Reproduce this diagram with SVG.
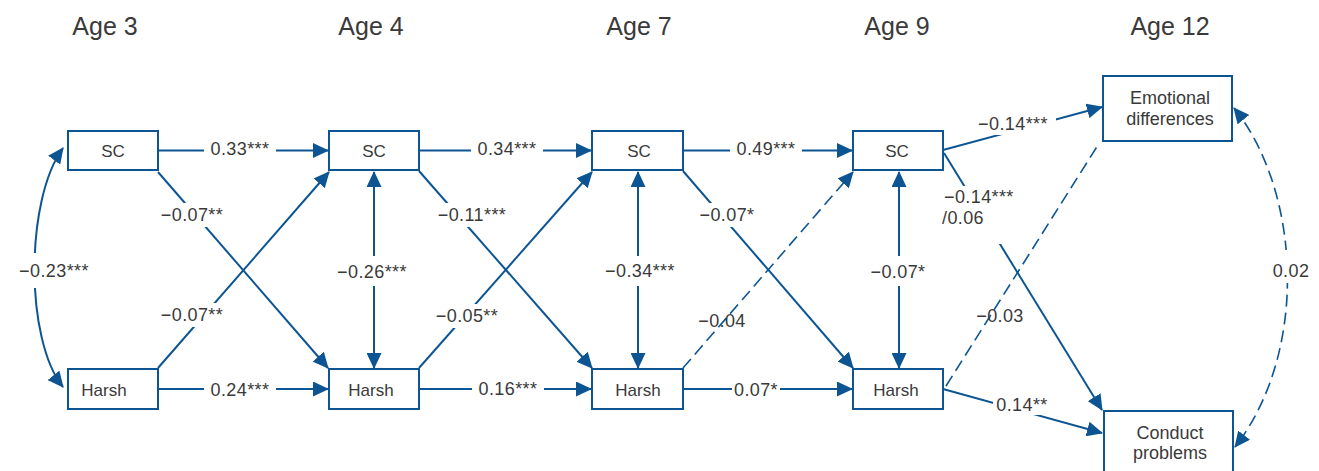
<svg xmlns="http://www.w3.org/2000/svg" width="1319" height="471" viewBox="0 0 1319 471">
<style>
.box{fill:#fff;stroke:#0d5592;stroke-width:2}
.ln{fill:none;stroke:#0d5592;stroke-width:2}
.dash{fill:none;stroke:#0d5592;stroke-width:1.6;stroke-dasharray:12 6}
.title{font-family:"Liberation Sans",Arial,sans-serif;font-size:25px;fill:#3a3a3a;text-anchor:middle}
.nl{font-family:"Liberation Sans",Arial,sans-serif;font-size:17px;fill:#3a3a3a;text-anchor:middle}
.nl2{font-family:"Liberation Sans",Arial,sans-serif;font-size:18px;fill:#3a3a3a;text-anchor:middle}
.el{font-family:"Liberation Sans",Arial,sans-serif;font-size:18px;fill:#3a3a3a;text-anchor:middle;letter-spacing:0.4px}
.els{font-family:"Liberation Sans",Arial,sans-serif;font-size:18px;fill:#3a3a3a;letter-spacing:0.4px}
.bg{fill:#fff}
</style>
<defs>
<marker id="ah" markerUnits="userSpaceOnUse" markerWidth="16" markerHeight="15" refX="15" refY="7.5" orient="auto-start-reverse" viewBox="0 0 16 15">
<path d="M0,0 L16,7.5 L0,15 z" fill="#0d5592"/>
</marker>
</defs>
<rect width="1319" height="471" fill="#fff"/>
<g id="titles">
<text class="title" x="105" y="35">Age 3</text>
<text class="title" x="371" y="35">Age 4</text>
<text class="title" x="639" y="35">Age 7</text>
<text class="title" x="897" y="35">Age 9</text>
<text class="title" x="1170" y="35">Age 12</text>
</g>
<g id="connectors">
<path class="ln" d="M158 150.5 H328" marker-end="url(#ah)"/>
<path class="ln" d="M419 150.5 H591" marker-end="url(#ah)"/>
<path class="ln" d="M683 150.5 H852" marker-end="url(#ah)"/>
<path class="ln" d="M158 389 H328" marker-end="url(#ah)"/>
<path class="ln" d="M419 389 H591" marker-end="url(#ah)"/>
<path class="ln" d="M683 389 H852" marker-end="url(#ah)"/>
<path class="ln" d="M158 172 L328 368" marker-end="url(#ah)"/>
<path class="ln" d="M158 368 L329 172" marker-end="url(#ah)"/>
<path class="ln" d="M419 171 L592 368" marker-end="url(#ah)"/>
<path class="ln" d="M419 368 L592 172" marker-end="url(#ah)"/>
<path class="ln" d="M683 171 L853 368" marker-end="url(#ah)"/>
<path class="dash" d="M683 368 L853 172" marker-end="url(#ah)"/>
<path class="ln" d="M374 172 V368" marker-start="url(#ah)" marker-end="url(#ah)"/>
<path class="ln" d="M638 172 V368" marker-start="url(#ah)" marker-end="url(#ah)"/>
<path class="ln" d="M899 172 V368" marker-start="url(#ah)" marker-end="url(#ah)"/>
<path class="ln" d="M63 148 C25 200 25 340 63 387" marker-start="url(#ah)" marker-end="url(#ah)"/>
<path class="dash" d="M1234 108 C1300 190 1310 350 1235 447" marker-start="url(#ah)" marker-end="url(#ah)"/>
<path class="ln" d="M943 150 L1102 107" marker-end="url(#ah)"/>
<path class="ln" d="M944 153 L1102 410" marker-end="url(#ah)"/>
<path class="dash" d="M946 386 L1098 145"/>
<path class="ln" d="M943 389 L1102 433" marker-end="url(#ah)"/>
</g>
<g id="edge-labels">
<rect class="bg" x="204" y="138" width="72" height="22"/><text class="el" x="240" y="155">0.33***</text>
<rect class="bg" x="204" y="379" width="72" height="20"/><text class="el" x="240" y="396">0.24***</text>
<rect class="bg" x="156" y="203" width="72" height="24"/><text class="el" x="192" y="221">−0.07**</text>
<rect class="bg" x="156" y="303" width="72" height="24"/><text class="el" x="192" y="321">−0.07**</text>
<rect class="bg" x="14" y="253" width="82" height="35"/><text class="el" x="54" y="277">−0.23***</text>
<rect class="bg" x="331" y="256" width="82" height="30"/><text class="el" x="372" y="278">−0.26***</text>
<rect class="bg" x="471" y="138" width="72" height="22"/><text class="el" x="507" y="155">0.34***</text>
<rect class="bg" x="472" y="378" width="72" height="20"/><text class="el" x="508" y="395">0.16***</text>
<rect class="bg" x="431" y="203" width="82" height="24"/><text class="el" x="472" y="221">−0.11***</text>
<rect class="bg" x="431" y="304" width="72" height="24"/><text class="el" x="467" y="322">−0.05**</text>
<rect class="bg" x="599" y="256" width="82" height="30"/><text class="el" x="640" y="277">−0.34***</text>
<rect class="bg" x="730" y="138" width="72" height="22"/><text class="el" x="766" y="155">0.49***</text>
<rect class="bg" x="732" y="379" width="48" height="20"/><text class="el" x="756" y="396">0.07*</text>
<rect class="bg" x="696" y="203" width="62" height="24"/><text class="el" x="727" y="221">−0.07*</text>
<text class="el" x="722" y="327">−0.04</text>
<rect class="bg" x="866" y="256" width="64" height="30"/><text class="el" x="898" y="278">−0.07*</text>
<rect class="bg" x="974" y="113" width="82" height="22"/><text class="el" x="1013" y="130">−0.14***</text>
<rect class="bg" x="940" y="186" width="85" height="58"/><text class="els" x="944" y="203">−0.14***</text><text class="els" x="942" y="224">/0.06</text>
<text class="el" x="1000" y="322">−0.03</text>
<rect class="bg" x="993" y="394" width="58" height="21"/><text class="el" x="1022" y="411">0.14**</text>
<rect class="bg" x="1272" y="250" width="38" height="33"/><text class="el" x="1291" y="277">0.02</text>
</g>
<g id="n_sc3"><rect class="box" x="68" y="131" width="90" height="39"/><text class="nl" x="113" y="157">SC</text></g>
<g id="n_h3"><rect class="box" x="68" y="369" width="90" height="40"/><text class="nl" x="104" y="396">Harsh</text></g>
<g id="n_sc4"><rect class="box" x="329" y="131" width="90" height="39"/><text class="nl" x="374" y="157">SC</text></g>
<g id="n_h4"><rect class="box" x="329" y="369" width="90" height="40"/><text class="nl" x="371" y="396">Harsh</text></g>
<g id="n_sc7"><rect class="box" x="592" y="131" width="91" height="39"/><text class="nl" x="639" y="157">SC</text></g>
<g id="n_h7"><rect class="box" x="592" y="369" width="91" height="40"/><text class="nl" x="638" y="396">Harsh</text></g>
<g id="n_sc9"><rect class="box" x="853" y="131" width="90" height="39"/><text class="nl" x="897" y="157">SC</text></g>
<g id="n_h9"><rect class="box" x="853" y="369" width="90" height="40"/><text class="nl" x="896" y="396">Harsh</text></g>
<g id="n_emo"><rect class="box" x="1103" y="76" width="129" height="65"/><text class="nl2" x="1170" y="104">Emotional</text><text class="nl2" x="1170" y="125">differences</text></g>
<g id="n_cp"><rect class="box" x="1104" y="411" width="129" height="66"/><text class="nl2" x="1170" y="439">Conduct</text><text class="nl2" x="1170" y="459">problems</text></g>
</svg>
